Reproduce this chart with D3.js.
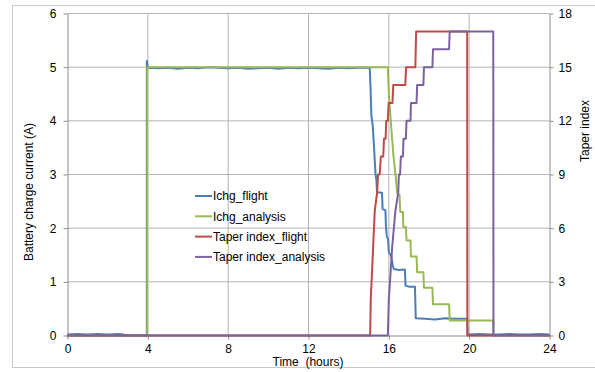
<!DOCTYPE html>
<html>
<head>
<meta charset="utf-8">
<script src="https://cdn.jsdelivr.net/npm/d3@7"></script>
<style>
  body { margin: 0; background: #fff; }
  svg { display: block; font-family: "Liberation Sans", Arial, sans-serif; }
</style>
</head>
<body>
<div id="chart"></div>
<script>
// Ichg_flight (A)
const flightHours = [0, 0.5, 1.0, 1.5, 2.0, 2.5, 2.8, 2.8, 3.95, 3.95, 4.0, 4.5, 5.0, 5.5, 6.0, 6.5, 7.0, 7.5, 8.0, 8.5,
  9.0, 9.5, 10.0, 10.5, 11.0, 11.5, 12.0, 12.5, 13.0, 13.5, 14.0, 14.5, 15.05, 15.09, 15.13, 15.2, 15.25, 15.3, 15.34,
  15.38, 15.41, 15.66, 15.69, 15.83, 15.86, 15.9, 15.96, 16.0, 16.12, 16.2, 16.25, 16.5, 16.8, 16.83, 17.0, 17.3,
  17.34, 17.8, 18.3, 18.8, 19.3, 19.9, 19.92, 20.5, 21.0, 21.5, 22.0, 22.5, 23.0, 23.5, 24];
const flightCurrent = [0.02, 0.03, 0.02, 0.03, 0.02, 0.03, 0.02, 0, 0, 5.12, 4.99, 4.98, 4.99, 4.97, 4.99, 4.98, 5.0, 4.99,
  4.98, 4.99, 4.97, 4.98, 4.99, 4.97, 4.99, 4.98, 4.99, 4.98, 4.97, 4.99, 4.98, 4.99, 4.99, 4.6, 4.1, 3.9, 3.6, 3.26, 3.0,
  2.9, 2.67, 2.66, 2.36, 2.33, 2.0, 1.84, 1.8, 1.55, 1.48, 1.3, 1.24, 1.22, 1.23, 0.93, 0.91, 0.91,
  0.32, 0.31, 0.30, 0.32, 0.31, 0.31, 0.02, 0.03, 0.02, 0.02, 0.03, 0.02, 0.02, 0.03, 0.02];

// Ichg_analysis (A)
const analysisHours = [0, 3.97, 3.97, 15.95, 16.0, 16.12, 16.22, 16.33, 16.42, 16.53, 16.57, 16.7, 16.72, 16.85, 16.88,
  17.08, 17.1, 17.38, 17.41, 17.72, 17.75, 18.17, 18.2, 19.0, 19.03, 21.2, 21.2];
const analysisCurrent = [0, 0, 5.0, 5.0, 4.5, 3.88, 3.39, 3.0, 2.65, 2.62, 2.3, 2.3, 2.02, 2.02, 1.77,
  1.77, 1.47, 1.47, 1.18, 1.18, 0.89, 0.89, 0.58, 0.58, 0.28, 0.28, 0];

// Taper index_flight
const taperFlightHours = [0, 15.07, 15.1, 15.18, 15.3, 15.42, 15.46, 15.55, 15.6, 15.72, 15.76, 15.84, 15.87, 15.95,
  15.99, 16.18, 16.22, 16.82, 16.86, 17.32, 17.36, 19.9, 19.91, 24];
const taperFlight = [0, 0, 2, 4, 7, 8, 9, 9, 10, 10, 11, 11, 12, 12, 13, 13, 14, 14, 15, 15, 17, 17, 0, 0];

// Taper index_analysis
const taperAnalysisHours = [0, 15.95, 16.0, 16.17, 16.33, 16.47, 16.5, 16.56, 16.6, 16.7, 16.73, 16.85, 16.88, 17.08,
  17.1, 17.38, 17.41, 17.72, 17.75, 18.17, 18.2, 19.0, 19.03, 21.2, 21.21, 24];
const taperAnalysis = [0, 0, 2, 5, 7, 8, 9, 9, 10, 10, 11, 11, 12, 12, 13, 13, 14, 14, 15, 15, 16, 16, 17, 17, 0, 0];

const xTicks = [0, 4, 8, 12, 16, 20, 24];
const leftTicks = [0, 1, 2, 3, 4, 5, 6];
const rightTicks = [0, 3, 6, 9, 12, 15, 18];

const width = 595;
const height = 372;
const plotLeft = 67.5, plotRight = 549.5, plotTop = 13.5, plotBottom = 335.5;

const svg = d3.select('#chart')
  .append('svg')
  .attr('width', width)
  .attr('height', height);

// outer frame
svg.append('rect')
  .attr('x', 12.5).attr('y', 5.5)
  .attr('width', 600).attr('height', 362)
  .attr('fill', 'none')
  .attr('stroke', '#c8c8c8');

const x = d3.scaleLinear().domain([0, 24]).range([plotLeft, plotRight]);
const yL = d3.scaleLinear().domain([0, 6]).range([plotBottom, plotTop]);
const yR = d3.scaleLinear().domain([0, 18]).range([plotBottom, plotTop]);

// gridlines
svg.append('g')
  .selectAll('line')
  .data(leftTicks.slice(1))
  .join('line')
  .attr('x1', plotLeft).attr('x2', plotRight)
  .attr('y1', d => yL(d)).attr('y2', d => yL(d))
  .attr('stroke', '#b4b4b4');

svg.append('g')
  .selectAll('line')
  .data(xTicks.slice(1, -1))
  .join('line')
  .attr('x1', d => x(d)).attr('x2', d => x(d))
  .attr('y1', plotTop).attr('y2', plotBottom)
  .attr('stroke', '#b4b4b4');

// axes
const styleAxis = g => {
  g.select('.domain').attr('stroke', '#8c8c8c');
  g.selectAll('.tick line').attr('stroke', '#8c8c8c');
  g.selectAll('.tick text')
    .attr('fill', '#000')
    .style('font-size', '12px')
    .style('font-family', '"Liberation Sans", Arial, sans-serif');
};

svg.append('g')
  .attr('transform', `translate(0,${plotBottom})`)
  .call(d3.axisBottom(x).tickValues(xTicks).tickFormat(d3.format('d')).tickSize(4).tickSizeOuter(0).tickPadding(5))
  .call(styleAxis);

svg.append('g')
  .attr('transform', `translate(${plotLeft},0)`)
  .call(d3.axisLeft(yL).tickValues(leftTicks).tickFormat(d3.format('d')).tickSize(4).tickSizeOuter(0).tickPadding(7))
  .call(styleAxis);

svg.append('g')
  .attr('transform', `translate(${plotRight},0)`)
  .call(d3.axisRight(yR).tickValues(rightTicks).tickFormat(d3.format('d')).tickSize(4).tickSizeOuter(0).tickPadding(5))
  .call(styleAxis);

// series
const series = [
  { name: 'Ichg_flight', t: flightHours, v: flightCurrent, y: yL, color: '#4a7ebb' },
  { name: 'Ichg_analysis', t: analysisHours, v: analysisCurrent, y: yL, color: '#98b954' },
  { name: 'Taper index_flight', t: taperFlightHours, v: taperFlight, y: yR, color: '#be4b48' },
  { name: 'Taper index_analysis', t: taperAnalysisHours, v: taperAnalysis, y: yR, color: '#7d60a0' }
];

series.forEach(s => {
  const line = d3.line()
    .x(d => x(d[0]))
    .y(d => s.y(d[1]));
  svg.append('path')
    .datum(s.t.map((t, i) => [t, s.v[i]]))
    .attr('d', line)
    .attr('fill', 'none')
    .attr('stroke', s.color)
    .attr('stroke-width', 2)
    .attr('stroke-linejoin', 'round');
});

// legend
const legend = svg.selectAll('.legend')
  .data(series)
  .join('g')
  .attr('class', 'legend')
  .attr('transform', (d, i) => `translate(195, ${196 + i * 20.3})`);

legend.append('line')
  .attr('x1', 0).attr('x2', 17)
  .attr('stroke', d => d.color)
  .attr('stroke-width', 2);

legend.append('text')
  .attr('x', 18)
  .attr('dy', '0.35em')
  .style('font-size', '12px')
  .text(d => d.name);

// axis titles
svg.append('text')
  .attr('transform', 'translate(33,192) rotate(-90)')
  .attr('text-anchor', 'middle')
  .style('font-size', '12px')
  .text('Battery charge current (A)');

svg.append('text')
  .attr('transform', 'translate(589,131) rotate(-90)')
  .attr('text-anchor', 'middle')
  .style('font-size', '12px')
  .text('Taper index');

svg.append('text')
  .attr('x', 308).attr('y', 366)
  .attr('text-anchor', 'middle')
  .style('font-size', '12px')
  .text('Time\u00a0 (hours)');
</script>
</body>
</html>
